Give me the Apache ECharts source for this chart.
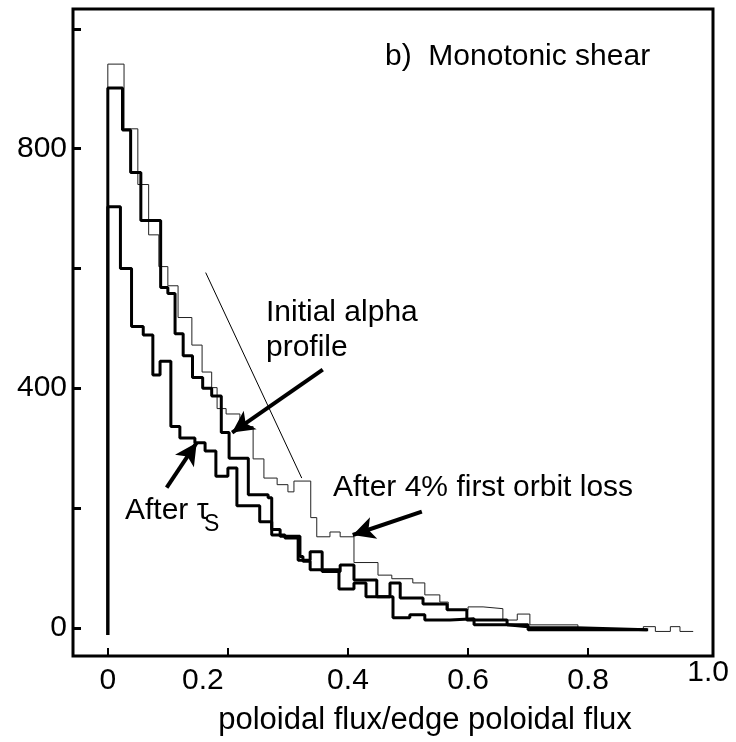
<!DOCTYPE html>
<html><head><meta charset="utf-8">
<script src="https://cdn.jsdelivr.net/npm/echarts@6/dist/echarts.min.js"></script>
<style>html,body{margin:0;padding:0;background:#fff}#c{width:736px;height:742px}</style>
</head><body><div id="c"></div>
<script>
// ---- data (x = poloidal flux / edge poloidal flux, y = counts) ----
const xTickValues = [0, 0.2, 0.4, 0.6, 0.8];
const xLabelValues = [0, 0.2, 0.4, 0.6, 0.8, 1.0];
const yTickValues = [0, 200, 400, 600, 800, 1000];
const yLabelValues = [0, 400, 800];
const startBase = -12;

// thin curve: "After 4% first orbit loss"
const thinEdges = [0, 0.027, 0.050, 0.068, 0.085, 0.100, 0.117, 0.140, 0.157, 0.173, 0.182, 0.197, 0.220, 0.242, 0.260, 0.282, 0.300, 0.310, 0.338, 0.348, 0.370, 0.387, 0.410, 0.450, 0.473, 0.508, 0.528, 0.553, 0.567, 0.600, 0.625, 0.658, 0.682, 0.703, 0.783, 0.892, 0.912, 0.937, 0.953, 0.975];
const thinValues = [941, 833, 740, 656, 603, 571, 518, 472, 427, 401, 366, 357, 336, 282, 250, 239, 227, 245, 184, 152, 160, 152, 109, 88, 82, 75, 55, 43, 30, 35, 32, 13, 23, 5, -2, 2, -6, 2, -6];

// upper thick curve: "Initial alpha profile"
const midEdges = [0, 0.0245, 0.038, 0.055, 0.088, 0.100, 0.112, 0.1255, 0.141, 0.158, 0.173, 0.189, 0.202, 0.234, 0.267, 0.273, 0.295, 0.317, 0.337, 0.357, 0.387, 0.410, 0.448, 0.470, 0.487, 0.525, 0.565, 0.598, 0.665, 0.700, 0.780, 0.898];
const midValues = [901, 831, 760, 680, 568, 558, 491, 454, 418, 400, 387, 326, 283, 222, 217, 155, 150, 113, 127, 94, 105, 80, 52, 75, 50, 40, 30, 13, 5, 0, -3];

// lower thick curve: "After tau_s"
const lowEdges = [0, 0.021, 0.0395, 0.059, 0.075, 0.087, 0.105, 0.120, 0.145, 0.162, 0.180, 0.200, 0.215, 0.253, 0.273, 0.287, 0.320, 0.325, 0.337, 0.385, 0.410, 0.430, 0.475, 0.503, 0.528, 0.570, 0.610, 0.665, 0.700, 0.900];
const lowValues = [703, 600, 503, 489, 422, 445, 336, 317, 309, 295, 253, 267, 204, 177, 164, 153, 119, 111, 97, 65, 75, 52, 17, 22, 13, 15, 5, 2, -3];

// annotation guide line and arrows (data coordinates: [x, y])
const guideLine = [[0.163, 593], [0.323, 250]];
const arrowInitial = [[0.358, 431], [0.207, 326]];
const arrowTau = [[0.098, 234], [0.148, 309]];
const arrowLoss = [[0.523, 194], [0.408, 155]];

function steps(edges, values, base) {
  const pts = [[edges[0], base]];
  for (let i = 0; i < values.length; i++) {
    pts.push([edges[i], values[i]]);
    pts.push([edges[i + 1], values[i]]);
  }
  return pts;
}

const FONT = '"Liberation Sans", Arial, Helvetica, sans-serif';
const chart = echarts.init(document.getElementById('c'));

function arrowItem(seg) {
  return [
    { coord: seg[0], symbol: 'none' },
    { coord: seg[1], symbol: 'arrow', symbolSize: [17, 22] }
  ];
}

chart.setOption({
  animation: false,
  backgroundColor: '#fff',
  grid: { left: 73, right: 23, top: 9, bottom: 86, show: true, borderColor: '#000', borderWidth: 3, backgroundColor: 'transparent' },
  xAxis: {
    type: 'value', min: -0.058, max: 1.008,
    axisLine: { show: false, onZero: false },
    splitLine: { show: false },
    axisTick: { show: true, inside: true, length: 8, customValues: xTickValues, lineStyle: { color: '#000', width: 2 } },
    axisLabel: {
      customValues: xLabelValues, margin: 10, color: '#000', fontSize: 30, fontFamily: FONT,
      formatter: function (v) {
        if (Math.abs(v) < 1e-9) return '0';
        if (Math.abs(v - 0.2) < 1e-9) return '{s|0.2}';
        if (Math.abs(v - 1) < 1e-9) return '{t|1.0}';
        return v.toFixed(1);
      },
      rich: {
        s: { fontSize: 30, fontFamily: FONT, color: '#000', padding: [0, 50, 0, 0] },
        t: { fontSize: 30, fontFamily: FONT, color: '#000', lineHeight: 14 }
      }
    },
    name: 'poloidal flux/edge poloidal flux',
    nameLocation: 'middle', nameGap: 49,
    nameTextStyle: { color: '#000', fontSize: 31, fontFamily: FONT, padding: [0, 0, 0, 64] }
  },
  yAxis: {
    type: 'value', min: -47, max: 1033,
    axisLine: { show: false, onZero: false },
    splitLine: { show: false },
    axisTick: { show: true, inside: true, length: 8, customValues: yTickValues, lineStyle: { color: '#000', width: 3 } },
    axisLabel: { customValues: yLabelValues, margin: 6, color: '#000', fontSize: 30, fontFamily: FONT }
  },
  series: [
    { type: 'line', data: steps(thinEdges, thinValues, startBase), showSymbol: false, symbol: 'none',
      lineStyle: { color: '#222', width: 1 }, z: 3 },
    { type: 'line', data: steps(midEdges, midValues, startBase), showSymbol: false, symbol: 'none',
      lineStyle: { color: '#000', width: 3 }, z: 4 },
    { type: 'line', data: steps(lowEdges, lowValues, startBase), showSymbol: false, symbol: 'none',
      lineStyle: { color: '#000', width: 3 }, z: 4 },
    { type: 'line', data: [], z: 5,
      markLine: {
        silent: true, animation: false, label: { show: false },
        lineStyle: { color: '#000', width: 4, type: 'solid' },
        data: [
          [{ coord: guideLine[0], symbol: 'none', lineStyle: { width: 1 } }, { coord: guideLine[1], symbol: 'none' }],
          arrowItem(arrowInitial), arrowItem(arrowTau), arrowItem(arrowLoss)
        ]
      }
    }
  ],
  graphic: [
    { type: 'text', x: 385, y: 57, style: { text: 'b)  Monotonic shear', font: '30px ' + FONT, fill: '#000', verticalAlign: 'middle' } },
    { type: 'text', x: 266, y: 313, style: { text: 'Initial alpha', font: '30px ' + FONT, fill: '#000', verticalAlign: 'middle' } },
    { type: 'text', x: 266, y: 348, style: { text: 'profile', font: '30px ' + FONT, fill: '#000', verticalAlign: 'middle' } },
    { type: 'text', x: 333, y: 488, style: { text: 'After 4% first orbit loss', font: '30px ' + FONT, fill: '#000', verticalAlign: 'middle' } },
    { type: 'text', x: 125, y: 511, style: { text: 'After τ', font: '30px ' + FONT, fill: '#000', verticalAlign: 'middle' } },
    { type: 'text', x: 204, y: 525, style: { text: 'S', font: '23px ' + FONT, fill: '#000', verticalAlign: 'middle' } }
  ]
});
</script>
</body></html>
